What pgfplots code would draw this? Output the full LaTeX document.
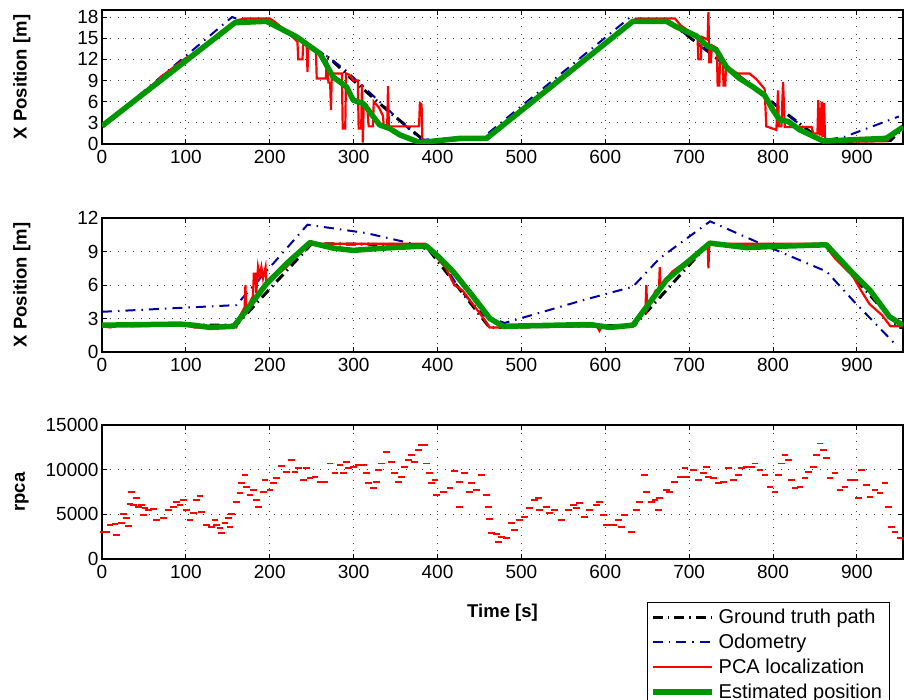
\documentclass[border=0pt]{standalone}
\usepackage{fontspec}
\setmainfont{Liberation Sans}
\usepackage{pgfplots}
\pgfplotsset{compat=1.18}
\definecolor{odo}{RGB}{0,0,160}
\definecolor{est}{RGB}{0,150,0}
\pgfplotsset{
  common/.style={
    width=801pt, height=134pt, scale only axis,
    xmin=0, xmax=955,
    xtick={0,100,...,900},
    grid=major,
    major grid style={line width=0.8pt, dash pattern=on 0.8pt off 7pt, black!75},
    tick align=inside, tick pos=both,
    axis line style={line width=1.4pt},
    tick style={line width=0.8pt, black},
    major tick length=5pt,
    /pgf/number format/assume math mode=true,
    /pgf/number format/1000 sep={},
    scaled y ticks=false,
    ticklabel style={font=\fontsize{19}{19}\selectfont},
    xticklabel style={yshift=-3pt},
    label style={font=\fontsize{18.5}{20}\selectfont\bfseries},
    ylabel style={at={(axis description cs:-0.1,0.5)}, anchor=center},
  },
  gt/.style={black, line width=3pt, dash pattern=on 10pt off 5pt on 1.5pt off 5pt},
  od/.style={odo, line width=2pt, dash pattern=on 10pt off 6pt on 1.5pt off 6pt},
  pca/.style={red, line width=2.2pt},
  es/.style={est, line width=5.5pt, line join=round},
}
\begin{document}
\begin{tikzpicture}
\useasboundingbox (0,0) rectangle (904pt,-700pt);
% ---------- top ----------
\begin{axis}[common, at={(102pt,-10pt)}, anchor=north west,
  ymin=0, ymax=19, ytick={0,3,...,18}, ylabel={X Position [m]}]
\addplot[gt] coordinates {(0,2.5)(160,17.5)(200,17.5)(273,12)(295,9.5)(343,4.5)(385,0.4)(460,0.8)(635,17.5)(675,17.5)(740,11.5)(815,4.4)(860,0.3)(940,0.5)(955,2.2)};
\addplot[od] coordinates {(0,2.5)(155,18)(160,17.8)(200,17.5)(270,12.3)(290,10.5)(340,5)(380,0.6)(455,1.0)(630,18)(635,17.8)(675,17.5)(855,0.6)(860,0.5)(885,1.0)(950,3.9)};
\addplot[pca] coordinates {(0,2.5)(40,6.3)(68,9.2)(70,9.5)(100,12.2)(110,12.8)(115,13.0)(160,17.5)(170,17.8)(200,17.8)(205,17.4)(220,16)(233,14.5)(234,12)(239,12)(240,14.4)(244,14.2)(245,10.2)(246,14.2)(255,13.5)(256,9.3)(267,9.3)(268,12.0)(270,8.7)(272,8.7)(273,4.8)(274,10)(286,10)(287,2.2)(290,2.2)(291,10)(295,9.8)(300,9)(305,9)(306,2.2)(309,2.2)(310,8.5)(311,0.2)(312,5.5)(316,5.5)(318,2.5)(323,2.5)(324,6)(330,5.2)(335,4)(336,2.4)(340,2.4)(341,8.2)(342,2.5)(378,2.5)(379,5.8)(381,5.6)(382,0.8)(385,0.2)(400,0.5)(420,0.6)(440,0.8)(460,0.9)(635,17.6)(640,17.8)(683,17.8)(690,16.8)(700,16)(710,15.3)(711,12)(714,12)(715,15.2)(722,14.8)(723,18.7)(724,11.6)(726,11.6)(727,14)(733,13.6)(734,8.3)(736,8.3)(737,12.5)(740,12)(741,8.3)(743,8.3)(744,11)(758,10)(772,10)(780,9.2)(790,7.8)(792,2.5)(804,2.0)(806,7.6)(807,2.5)(810,2.5)(812,8.8)(814,2.4)(846,2.4)(848,1.5)(853,1.5)(854,6.2)(856,1.2)(858,6)(859,1)(861,5.8)(862,0.4)(866,0.3)(935,0.4)(955,2.4)};
\addplot[es] coordinates {(0,2.55)(158.5,17.2)(196,17.4)(232,15.2)(260,12.8)(275.7,9.5)(291.6,8.1)(299.6,6.2)(311.5,5.75)(331,2.7)(343,2.2)(355,1.3)(379,0.2)(426.7,0.8)(458.5,0.8)(633,17.4)(673,17.4)(685,16.6)(709,15.3)(720.6,14)(732.6,13.3)(744.5,10.9)(760,9.3)(776,8.1)(790,6.9)(800,4.8)(808,3.4)(818,3.2)(832,2.0)(860,0.42)(935,0.8)(955,2.4)};
\end{axis}
% ---------- middle ----------
\begin{axis}[common, at={(102pt,-218pt)}, anchor=north west,
  ymin=0, ymax=12, ytick={0,3,...,12}, ylabel={X Position [m]}]
\addplot[gt] coordinates {(0,2.4)(160,2.4)(250,9.7)(385,9.6)(462,2.2)(635,2.4)(722,9.6)(862,9.6)(950,2.2)(955,2.2)};
\addplot[od] coordinates {(0,3.6)(160,4.2)(208,8.25)(245,11.4)(315,10.65)(367,9.75)(400,8.8)(427,5.55)(455,3.3)(480,2.6)(574,4.65)(633,5.85)(665,8.4)(725,11.7)(784,9.75)(864,7.2)(895,4.65)(947,0.6)};
\addplot[pca] coordinates {(0,2.3)(10,2.2)(20,2.4)(40,2.3)(80,2.4)(100,2.4)(110,2.2)(130,2.2)(150,2.3)(160,2.2)(165,3.3)(170,4)(171,6)(172,3.8)(180,5.0)(181,7.0)(183,7.0)(184,5.3)(186,7.6)(188,6.8)(190,7.6)(192,6.6)(195,7.6)(196,6.3)(210,7)(220,7.6)(230,8.5)(250,9.7)(300,9.7)(385,9.7)(395,8.8)(410,7.5)(420,6)(430,5.5)(440,4.5)(455,3)(462,2.2)(480,2.2)(590,2.3)(593,1.9)(596,2.3)(630,2.4)(640,3.0)(648,4)(649,6.0)(650,3.8)(660,5.5)(664,5.5)(665,7.6)(666,5.9)(680,7.2)(700,8.3)(722,9.7)(723,7.5)(724,9.6)(750,9.7)(860,9.7)(875,8.3)(895,6.8)(905,5.5)(915,4.3)(930,3.3)(940,2.3)(955,2.3)};
\addplot[es] coordinates {(0,2.4)(93,2.5)(109,2.4)(128.7,2.2)(157,2.3)(164.5,3.0)(196.6,6.15)(220.5,7.95)(248,9.8)(275.7,9.3)(299.5,9.1)(335,9.3)(386.8,9.5)(403,8.4)(418.7,7.2)(442.6,4.95)(462.5,3.0)(478,2.3)(542,2.4)(581.6,2.46)(605.5,2.2)(633,2.4)(673,6.45)(724.7,9.75)(768.4,9.35)(800,9.45)(863.7,9.6)(891.5,7.35)(915.4,5.55)(939,3.15)(955,2.4)};
\end{axis}
% ---------- bottom ----------
\begin{axis}[common, at={(102pt,-425pt)}, anchor=north west,
  ymin=0, ymax=15000, ytick={0,5000,10000,15000}, ylabel={rpca},
  xlabel={Time [s]}, xlabel style={at={(axis description cs:0.5,-0.403)}, anchor=center},
  legend style={at={(0.680,-0.321)}, anchor=north west, draw=black, line width=1pt,
    font=\fontsize{20}{20}\selectfont, nodes={inner ysep=4.5pt, inner xsep=4pt}, row sep=0pt},
  legend cell align=left,
  legend image code/.code={\draw[#1] (0pt,0pt) -- (59pt,0pt);}]
\addplot[red, only marks, mark=-, mark size=3.4pt, mark options={line width=1.8pt}, forget plot] coordinates {
(1.6,3059)(5.6,3059)(9.5,3800)(15.5,3900)(17.5,2690)(23.4,4000)(25.4,5035)(29.4,4550)(31.4,3700)(33.4,6150)(35.4,7535)(37.3,6040)(41.3,6790)(43.3,5860)(47.3,6040)(49.3,4920)(51.3,5670)(55.2,5480)(61.2,5560)(65.2,4360)(73.1,4550)(79.1,5480)(85.0,5860)(89,6420)(93,6040)(96.9,6600)(100.9,5480)(104.9,4360)(108.9,5110)(112.8,6600)(116.8,7050)(118.8,5300)(124.7,3800)(130.7,3620)(134.7,4360)(136.6,3800)(140.6,3430)(142.6,2870)(146.6,4000)(150.6,4550)(152.6,3540)(154.5,5035)(160.5,6420)(164.5,7350)(166.5,8470)(170.4,9400)(172.4,8090)(176.4,7160)(180.4,7720)(184.4,6600)(186.3,5860)(192.3,7535)(194.3,8840)(200.2,7720)(204.2,8470)(208.2,9030)(214.1,10400)(220.1,9770)(226.1,11080)(230,9770)(234,10150)(240,8840)(244,10150)(248,9030)(253.9,9210)(259.9,8650)(265.8,8650)(271.8,10700)(277.7,9590)(283.7,10520)(287.7,9590)(291.6,10890)(293.6,10150)(299.6,10330)(305.5,10520)(311.5,10520)(315.5,9590)(317.4,8470)(323.4,7910)(327.4,8650)(329.4,9960)(333.3,10700)(339.3,12010)(345.3,10890)(349.2,9590)(353.2,8650)(357.2,9210)(361.1,10330)(365.1,11080)(369.1,11640)(373,10890)(377,12200)(381,12760)(385,12760)(387,10700)(390.9,9590)(392.9,8470)(396.9,8840)(398.9,7160)
(406.8,7535)(414.8,7910)(420.7,9880)(426.7,8650)(426.7,5860)(432.6,9590)(438.6,7535)(440.6,8470)(446.5,7720)(452.5,9400)(458.5,7160)(460.5,5780)(462.4,4440)(464.4,2950)(470.4,2800)(472.4,1940)(476.3,2500)(482.3,2310)(488.3,3990)(492.2,3245)(498.2,4360)(504.1,4740)(510.1,5670)(516.1,6600)(520,6790)(522,5480)(530,5860)(534,5110)(539.9,5480)(547.9,4360)(555.8,5480)(561.8,6040)(565.8,5670)(569.7,6230)(575.7,4740)(581.6,5480)(589.6,6040)(593.6,6420)(597.5,4920)(601.5,3800)(609.5,3800)(615.4,4360)(619.4,3620)(623.4,4920)(631.3,3060)(637.3,5480)(641.3,6420)(647.2,9400)(649.2,7535)(655.2,6420)(659.2,6600)(663.1,5480)(665.1,6790)(673,7720)(677,7535)(683,8650)(689,9210)(695,10150)(697,9210)(704.9,9960)(710.9,8840)(716.9,9590)(720.9,10330)(722.9,9210)(728.8,9030)(734.8,8470)(740.7,8650)(746.7,10150)(752.7,8840)(758.6,9400)(762.6,10150)(768.6,10330)(774.6,10330)(778.5,10700)(784.5,9960)(790.5,9400)(796.4,8090)(802.4,7535)(806.4,9400)(810.4,10700)(814.3,11640)(818.3,11080)(822.3,8840)(826.3,7910)(832.2,8090)(838.2,9030)(842.2,9770)(848.1,10330)(852.1,11640)(856.1,12940)(860,12200)(864,11270)(868,9030)(874,9590)(879.9,7720)(885.9,8090)(891.9,8840)(897.8,8840)(901.8,6790)(905.8,9960)(911.8,8280)(915.7,6980)(921.7,7720)(927.6,7350)(933.6,8470)(937.6,5860)(941.6,3620)(945.5,3060)(951.5,2310)};
\addlegendimage{gt}
\addlegendentry{Ground truth path}
\addlegendimage{od}
\addlegendentry{Odometry}
\addlegendimage{pca}
\addlegendentry{PCA localization}
\addlegendimage{es}
\addlegendentry{Estimated position}
\end{axis}
\end{tikzpicture}
\end{document}
